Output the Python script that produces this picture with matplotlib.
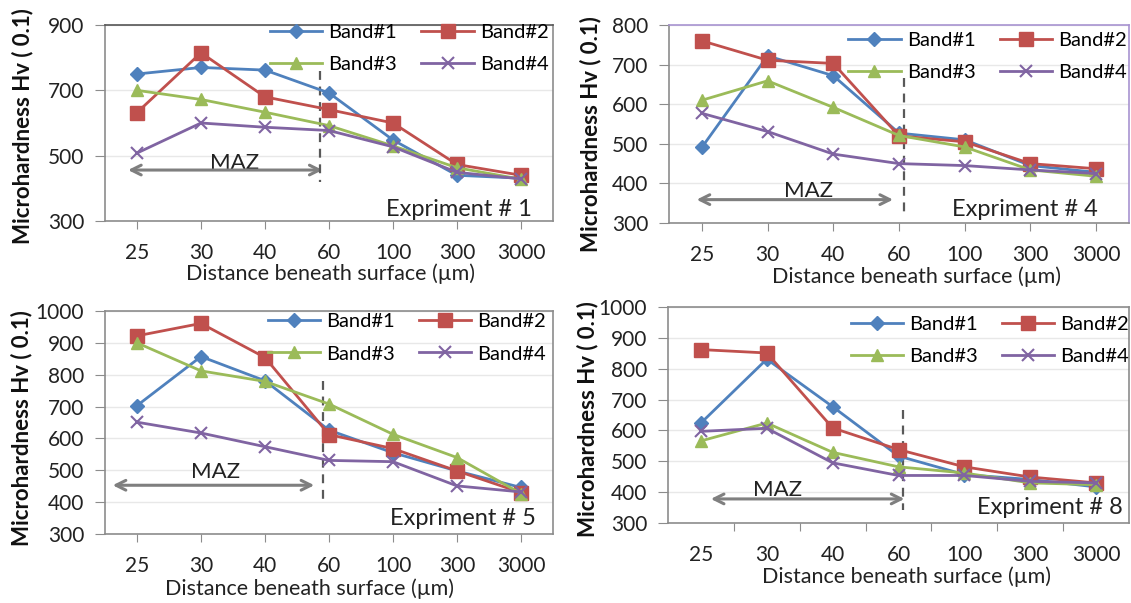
import matplotlib
matplotlib.use("Agg")
import matplotlib.pyplot as plt

plt.rcParams['font.family'] = ['Lato', 'DejaVu Sans']

# categories on the x axis (um)
distances = ['25', '30', '40', '60', '100', '300', '3000']
band_names = ['Band#1', 'Band#2', 'Band#3', 'Band#4']

# Expriment # 1
exp1_band1 = [750, 770, 762, 692, 548, 440, 431]
exp1_band2 = [632, 815, 680, 641, 600, 473, 440]
exp1_band3 = [700, 672, 633, 592, 530, 463, 428]
exp1_band4 = [508, 600, 587, 577, 527, 449, 429]

# Expriment # 4
exp4_band1 = [491, 722, 672, 527, 510, 445, 428]
exp4_band2 = [760, 711, 703, 520, 505, 450, 437]
exp4_band3 = [610, 659, 592, 521, 492, 434, 418]
exp4_band4 = [577, 531, 474, 450, 445, 434, 425]

# Expriment # 5
exp5_band1 = [703, 857, 781, 626, 555, 498, 446]
exp5_band2 = [922, 961, 854, 612, 568, 498, 430]
exp5_band3 = [900, 812, 779, 708, 613, 540, 427]
exp5_band4 = [651, 617, 574, 531, 527, 451, 432]

# Expriment # 8
exp8_band1 = [624, 831, 677, 517, 457, 441, 417]
exp8_band2 = [862, 851, 608, 538, 482, 449, 430]
exp8_band3 = [566, 624, 529, 482, 462, 430, 424]
exp8_band4 = [597, 607, 495, 454, 454, 435, 430]

colors = ['#4f81bd', '#c0504d', '#9bbb59', '#8064a2']
markers = ['D', 's', '^', 'x']
msizes = [7, 10, 9, 9]

W, H = 1131, 603
fig = plt.figure(figsize=(W / 100, H / 100), dpi=100)

panels = [
    dict(data=[exp1_band1, exp1_band2, exp1_band3, exp1_band4], title='Expriment # 1',
         box=(105, 25, 553, 221), ylim=(300, 900), ystep=200, xticks_between=False,
         arrow=(-0.14, 2.90, 456), dash=(2.86, 758, 418), maz=(1.52, 478),
         exp=(0.953, 0.057), leg=(0.99, 1.005), ylab=(23, 126), xlab=(0.504, 263),
         border='#8c8c8c', top='#555555'),
    dict(data=[exp4_band1, exp4_band2, exp4_band3, exp4_band4], title='Expriment # 4',
         box=(669, 25, 1129, 223), ylim=(300, 800), ystep=100, xticks_between=False,
         arrow=(-0.08, 2.91, 359), dash=(3.07, 667, 328), maz=(1.62, 380),
         exp=(0.933, 0.068), leg=(0.995, 0.965), ylab=(591, 134), xlab=(0.537, 266),
         border='#a893d1', top='#a893d1'),
    dict(data=[exp5_band1, exp5_band2, exp5_band3, exp5_band4], title='Expriment # 5',
         box=(105, 311, 553, 534), ylim=(300, 1000), ystep=100, xticks_between=False,
         arrow=(-0.38, 2.77, 453), dash=(2.91, 779, 404), maz=(1.23, 495),
         exp=(0.962, 0.07), leg=(0.985, 0.99), ylab=(22, 428), xlab=(0.456, 578),
         border='#8c8c8c', top='#8c8c8c'),
    dict(data=[exp8_band1, exp8_band2, exp8_band3, exp8_band4], title='Expriment # 8',
         box=(668, 307, 1129, 523), ylim=(300, 1000), ystep=100, xticks_between=True,
         arrow=(0.15, 3.09, 378), dash=(3.07, 667, 343), maz=(1.16, 406),
         exp=(0.987, 0.071), leg=(1.0, 0.96), ylab=(588, 419), xlab=(0.517, 566),
         border='#8c8c8c', top='#8c8c8c'),
]

x = list(range(len(distances)))

for p in panels:
    l, t, r, b = p['box']
    ax = fig.add_axes([l / W, 1 - b / H, (r - l) / W, (b - t) / H])
    lines = []
    for vals, c, m, ms, name in zip(p['data'], colors, markers, msizes, band_names):
        ln, = ax.plot(x, vals, color=c, marker=m, markersize=ms, lw=2,
                      markeredgewidth=1.5 if m == 'x' else 1, markeredgecolor=c,
                      label=name, zorder=3)
        lines.append(ln)

    y0, y1 = p['ylim']
    ax.set_ylim(y0, y1)
    ax.set_xlim(-0.5, len(distances) - 0.5)
    ax.set_yticks(range(y0, y1 + 1, p['ystep']))
    ax.yaxis.grid(True, color='#e8e8e8', lw=1)
    ax.set_axisbelow(True)

    if p['xticks_between']:
        ax.set_xticks([i + 0.5 for i in range(len(distances) - 1)])
        ax.set_xticklabels([])
        ax.set_xticks(x, minor=True)
        ax.set_xticklabels(distances, minor=True)
        ax.tick_params(axis='x', which='minor', length=0, pad=16, labelsize=15, labelcolor='#222222')
        ax.tick_params(axis='x', which='major', length=6, color='#8c8c8c')
    else:
        ax.set_xticks(x)
        ax.set_xticklabels(distances)
        ax.tick_params(axis='x', length=6, color='#8c8c8c', pad=10, labelsize=15, labelcolor='#222222')
    ax.tick_params(axis='y', length=7, color='#8c8c8c', pad=8, labelsize=15, labelcolor='#222222')

    for s in ['left', 'bottom']:
        ax.spines[s].set_color('#8c8c8c')
    ax.spines['right'].set_color(p['border'])
    ax.spines['top'].set_color(p['top'])
    for s in ax.spines.values():
        s.set_linewidth(1.2)

    # MAZ zone
    xa, xb, ya = p['arrow']
    ax.annotate('', xy=(xb, ya), xytext=(xa, ya),
                arrowprops=dict(arrowstyle='<->,head_length=0.7,head_width=0.35',
                                color='#7f7f7f', lw=2.2, shrinkA=0, shrinkB=0), zorder=2)
    xd, yd0, yd1 = p['dash']
    ax.plot([xd, xd], [yd0, yd1], ls=(0, (4, 3)), color='#595959', lw=1.6, zorder=2)
    ax.text(p['maz'][0], p['maz'][1], 'MAZ', fontsize=16, ha='center', va='center',
            color='#222222', zorder=1)

    ax.text(p['exp'][0], p['exp'][1], p['title'], transform=ax.transAxes,
            fontsize=17, ha='right', va='center', color='#222222')

    order = [lines[0], lines[2], lines[1], lines[3]]
    ax.legend(order, [h.get_label() for h in order], ncol=2, loc='upper right',
              bbox_to_anchor=p['leg'], frameon=False, fontsize=14.5,
              handlelength=2.6, handletextpad=0.3, columnspacing=1.2,
              labelspacing=0.75, borderpad=0, borderaxespad=0)

    ax.set_ylabel('Microhardness Hv ( 0.1)', fontsize=16, fontweight='bold', color='#111111')
    ax.yaxis.set_label_coords((p['ylab'][0] - l) / (r - l), (b - p['ylab'][1]) / (b - t))
    ax.yaxis.label.set_va('center')
    ax.yaxis.label.set_ha('center')

    ax.set_xlabel('Distance beneath surface (\u00b5m)', fontsize=15.5, color='#222222')
    ax.xaxis.set_label_coords(p['xlab'][0], (b - p['xlab'][1]) / (b - t))

fig.savefig('out.png', dpi=100)
